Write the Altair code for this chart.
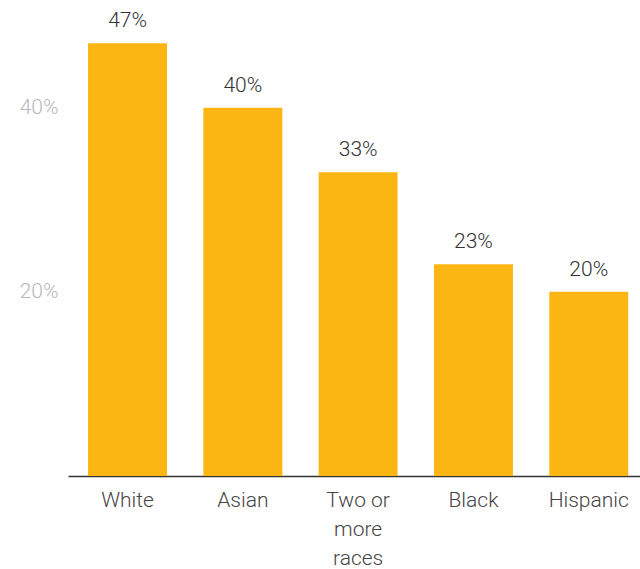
import altair as alt
import pandas as pd

categories = ["White", "Asian", "Two or more races", "Black", "Hispanic"]
values = [47, 40, 33, 23, 20]
labels = ["47%", "40%", "33%", "23%", "20%"]

df = pd.DataFrame({"group": categories, "value": values, "label": labels})

x = alt.X(
    "group:N",
    sort=categories,
    title=None,
    scale=alt.Scale(paddingInner=0.315, paddingOuter=0.138, align=0.63),
    axis=alt.Axis(
        labelAngle=0,
        labelFont="Roboto",
        labelFontSize=21,
        labelFontWeight=300,
        labelColor="#444444",
        labelPadding=24,
        labelLineHeight=29,
        labelBaseline="middle",
        ticks=False,
        domainColor="#333333",
        domainWidth=1.5,
        labelExpr="datum.label == 'Two or more races' ? ['Two or', 'more', 'races'] : datum.label",
    ),
)
y = alt.Y(
    "value:Q",
    title=None,
    scale=alt.Scale(domain=[0, 51.7], nice=False),
    axis=alt.Axis(
        values=[20, 40],
        labelExpr="datum.value + '%'",
        labelFont="Roboto",
        labelFontSize=21,
        labelFontWeight=300,
        labelColor="#b8b8b8",
        labelPadding=10,
        ticks=False,
        domain=False,
        grid=False,
    ),
)

bars = alt.Chart(df).mark_bar(color="#FCB614").encode(x=x, y=y)
text = alt.Chart(df).mark_text(
    font="Roboto", fontSize=21, fontWeight=300, color="#333333",
    baseline="alphabetic", dy=-16
).encode(
    x=alt.X("group:N", sort=categories),
    y=alt.Y("value:Q"),
    text="label:N",
)

chart = (
    (bars + text)
    .properties(
        width=572,
        height=476,
        background="white",
        autosize=alt.AutoSizeParams(type="none"),
        padding={"left": 68, "top": 0, "right": 0, "bottom": 93},
    )
    .configure_view(strokeWidth=0)
)

chart.save("out.html", embed_options={"renderer": "svg", "actions": False})
